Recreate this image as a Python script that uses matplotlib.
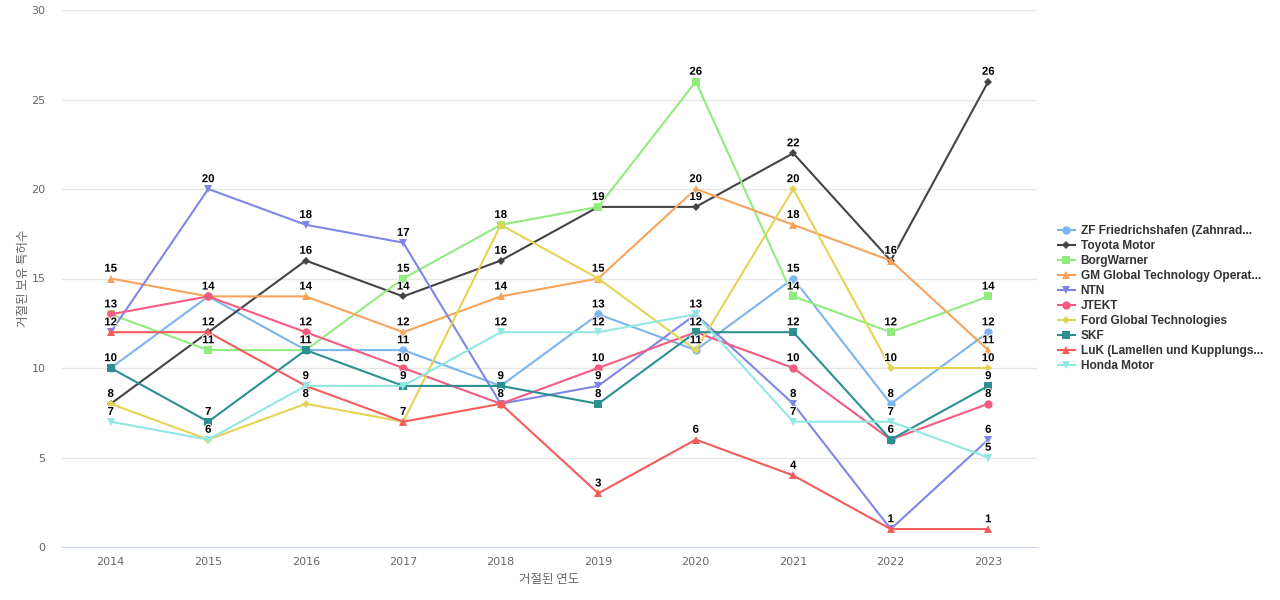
import matplotlib
matplotlib.use("Agg")
import matplotlib.pyplot as plt
import matplotlib.patheffects as pe

plt.rcParams['font.family'] = ['Liberation Sans', 'Noto Sans CJK KR', 'DejaVu Sans']

years = [2014, 2015, 2016, 2017, 2018, 2019, 2020, 2021, 2022, 2023]
series_names = [
    "ZF Friedrichshafen (Zahnrad...",
    "Toyota Motor",
    "BorgWarner",
    "GM Global Technology Operat...",
    "NTN",
    "JTEKT",
    "Ford Global Technologies",
    "SKF",
    "LuK (Lamellen und Kupplungs...",
    "Honda Motor",
]
zf = [10, 14, 11, 11, 9, 13, 11, 15, 8, 12]
toyota = [8, 12, 16, 14, 16, 19, 19, 22, 16, 26]
borgwarner = [13, 11, 11, 15, 18, 19, 26, 14, 12, 14]
gm = [15, 14, 14, 12, 14, 15, 20, 18, 16, 11]
ntn = [12, 20, 18, 17, 8, 9, 13, 8, 1, 6]
jtekt = [13, 14, 12, 10, 8, 10, 12, 10, 6, 8]
ford = [8, 6, 8, 7, 18, 15, 11, 20, 10, 10]
skf = [10, 7, 11, 9, 9, 8, 12, 12, 6, 9]
luk = [12, 12, 9, 7, 8, 3, 6, 4, 1, 1]
honda = [7, 6, 9, 9, 12, 12, 13, 7, 7, 5]

all_values = [zf, toyota, borgwarner, gm, ntn, jtekt, ford, skf, luk, honda]
colors = ['#7cb5ec', '#434348', '#90ed7d', '#f7a35c', '#8085e9',
          '#f15c80', '#e4d354', '#2b908f', '#f45b5b', '#91e8e1']
markers = ['o', 'D', 's', '^', 'v', 'o', 'D', 's', '^', 'v']
msizes = [6, 4.5, 6, 6, 6, 6, 4.5, 6, 6, 6]

fig = plt.figure(figsize=(12.8, 6), dpi=100)
ax = fig.add_axes([62/1280, 53/600, 975/1280, 537/600])

handles = []
labeled = set()
for name, vals, c, m, ms in zip(series_names, all_values, colors, markers, msizes):
    h, = ax.plot(years, vals, color=c, marker=m, markersize=ms, linewidth=1.5,
                 label=name, markeredgewidth=0)
    handles.append(h)
    for x, y in zip(years, vals):
        if (x, y) in labeled:
            continue
        labeled.add((x, y))
        ax.annotate(str(y), (x, y), xytext=(0, 3.5), textcoords='offset points',
                    ha='center', va='bottom', fontsize=8.2, fontweight='bold',
                    color='black', zorder=10,
                    path_effects=[pe.withStroke(linewidth=1.5, foreground='white')])

ax.set_xlim(2013.5, 2023.5)
ax.set_ylim(0, 30)
ax.set_yticks([0, 5, 10, 15, 20, 25, 30])
ax.set_xticks(years)
ax.grid(axis='y', color='#e6e6e6', linewidth=1)
ax.set_axisbelow(True)
for s in ['top', 'right', 'left']:
    ax.spines[s].set_visible(False)
ax.spines['bottom'].set_color('#ccd6eb')
ax.tick_params(axis='both', length=0, colors='#666666', labelsize=8)
ax.tick_params(axis='y', pad=12)
ax.tick_params(axis='x', pad=7)
for lbl in ax.get_xticklabels() + ax.get_yticklabels():
    lbl.set_family(['DejaVu Sans'])

ax.set_xlabel('거절된 연도', color='#666666', fontsize=9,
              family=['Noto Sans CJK KR', 'DejaVu Sans'])
ax.set_ylabel('거절된 보유 특허수', color='#666666', fontsize=9,
              family=['Noto Sans CJK KR', 'DejaVu Sans'])
ax.xaxis.set_label_coords(0.5, -0.048)
ax.yaxis.set_label_coords(-0.033, 0.5)

leg = fig.legend(handles=handles, loc='center left', bbox_to_anchor=(1058/1280, 0.5025),
                 frameon=False, handlelength=1.4, handletextpad=0.5,
                 borderpad=0, borderaxespad=0,
                 labelspacing=0.25, prop={'weight': 'bold', 'size': 8.6, 'family': ['Liberation Sans']})
for t in leg.get_texts():
    t.set_color('#333333')

fig.savefig('out.png', dpi=100)
